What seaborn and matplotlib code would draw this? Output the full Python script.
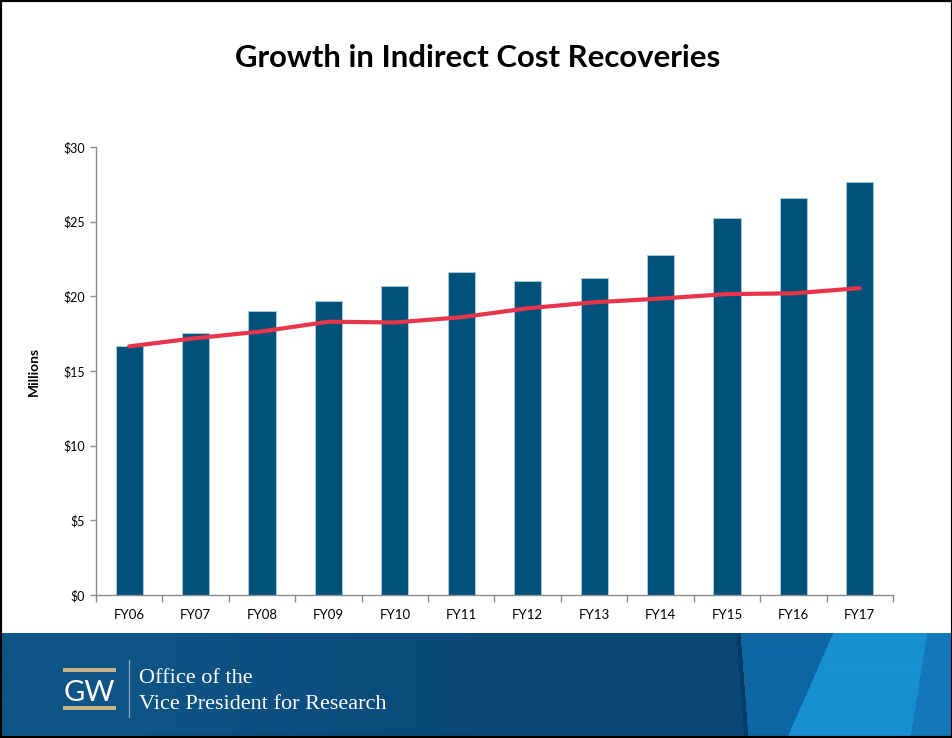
import numpy as np
import pandas as pd
import matplotlib
matplotlib.use("Agg")
import matplotlib.pyplot as plt
import seaborn as sns
from matplotlib.patches import Rectangle
from matplotlib.lines import Line2D

# ---- data ----
categories = ["FY06", "FY07", "FY08", "FY09", "FY10", "FY11",
              "FY12", "FY13", "FY14", "FY15", "FY16", "FY17"]
recoveries = [16.65, 17.55, 19.0, 19.7, 20.7, 21.65, 21.0, 21.2, 22.75, 25.25, 26.6, 27.65]
trend = [16.65, 17.2, 17.65, 18.3, 18.25, 18.6, 19.2, 19.6, 19.85, 20.15, 20.2, 20.55]
ytick_values = [0, 5, 10, 15, 20, 25, 30]
ytick_labels = ["$0", "$5", "$10", "$15", "$20", "$25", "$30"]
title_text = "Growth in Indirect Cost Recoveries"
ylabel_text = "Millions"
footer_line1 = "Office of the"
footer_line2 = "Vice President for Research"

sns.set_theme(style="white")
plt.rcParams["font.family"] = ["Lato", "DejaVu Sans"]

W, H = 953, 738
fig = plt.figure(figsize=(W / 100, H / 100), dpi=100)
fig.patch.set_facecolor("white")


def fx(x):
    return x / W


def fy(y):
    return 1 - y / H


# ---- chart ----
ax = fig.add_axes([fx(96), fy(595), fx(893) - fx(96), fy(147) - fy(595)])
df = pd.DataFrame({"Fiscal year": categories, "Recoveries": recoveries, "Trend": trend})
sns.barplot(data=df, x="Fiscal year", y="Recoveries", color="#00527A", saturation=1,
            width=0.41, edgecolor="#a9c9de", linewidth=0.7, ax=ax)
sns.pointplot(data=df, x="Fiscal year", y="Trend", color="#E8354B", markers="",
              linestyles="-", linewidth=3, errorbar=None, ax=ax)

ax.set_xlim(-0.5, len(categories) - 0.5)
ax.set_ylim(0, 30)
for s in ["top", "right"]:
    ax.spines[s].set_visible(False)
for s in ["left", "bottom"]:
    ax.spines[s].set_color("#8c8c8c")
    ax.spines[s].set_linewidth(1)
ax.set_yticks(ytick_values, ytick_labels)
ax.set_xticks(np.arange(-0.5, len(categories), 1.0), minor=True)
ax.tick_params(axis="y", which="major", left=True, length=4, width=1, color="#8c8c8c",
               direction="out", labelsize=9, pad=4, labelcolor="black")
ax.tick_params(axis="x", which="major", bottom=True, length=0, pad=10, labelsize=9.5,
               labelcolor="black")
ax.tick_params(axis="x", which="minor", bottom=True, length=5, width=1, color="#8c8c8c",
               direction="out")
ax.set_xlabel("")
ax.set_ylabel(ylabel_text, fontweight="bold", fontsize=10, color="black")
ax.yaxis.set_label_coords((40 - 96) / (893 - 96), 0.5)
ax.grid(False)

fig.text(fx(478), fy(58), title_text, ha="center", va="center", fontsize=22.4,
         fontweight="bold", color="black")

# ---- footer banner (decoration) ----
top = 633
bh = H - top
xs = np.arange(W)[None, :].astype(float)
t = (np.arange(bh)[:, None] / (bh - 1)).astype(float)
left_c = np.array([14, 84, 133]) / 255
mid_c = np.array([10, 72, 120]) / 255
w = np.clip((xs - 150) / 350, 0, 1)
w = np.broadcast_to(w, (bh, W))[..., None]
img = np.array(left_c * (1 - w) + mid_c * w)
line_x = 738 + 8 * t
b1 = 833 - 46 * t
b2 = 927 - 17 * t
xb = np.broadcast_to(xs, (bh, W))
m_dark = (xb >= line_x - 2) & (xb < line_x + 2)
m_b1 = (xb >= line_x + 2) & (xb < b1)
m_b2 = (xb >= b1) & (xb < b2)
m_b3 = xb >= b2
img[m_dark] = np.array([8, 60, 100]) / 255
img[m_b1] = np.array([13, 102, 163]) / 255
img[m_b2] = np.array([24, 143, 208]) / 255
img[m_b3] = np.array([20, 120, 187]) / 255

bax = fig.add_axes([0, 0, 1, fy(top)])
bax.imshow(img, aspect="auto", extent=[0, W, H, top], interpolation="bilinear")
bax.set_xlim(0, W)
bax.set_ylim(H, top)
bax.axis("off")

gold = "#C6B485"
fig.add_artist(Rectangle((fx(63), fy(671.5)), fx(116) - fx(63), (fy(668) - fy(671.5)),
                         transform=fig.transFigure, facecolor=gold, edgecolor="none"))
fig.add_artist(Rectangle((fx(63), fy(709.5)), fx(116) - fx(63), (fy(706) - fy(709.5)),
                         transform=fig.transFigure, facecolor=gold, edgecolor="none"))
fig.text(fx(89.5), fy(701), "GW", ha="center", va="baseline", fontsize=21,
         color="white", family=["Lato", "DejaVu Sans"])
fig.add_artist(Line2D([fx(128.7), fx(128.7)], [fy(660), fy(717)], transform=fig.transFigure,
                      color="#8fa6bf", linewidth=0.9))
fig.text(fx(139), fy(683), footer_line1, ha="left", va="baseline", fontsize=16,
         color="white", family=["Liberation Serif", "DejaVu Serif"])
fig.text(fx(139), fy(709), footer_line2, ha="left", va="baseline", fontsize=16,
         color="white", family=["Liberation Serif", "DejaVu Serif"])

# ---- outer border ----
fig.add_artist(Rectangle((0, 0), 1, 1, transform=fig.transFigure, fill=False,
                         edgecolor="black", linewidth=3))

fig.savefig("out.png", dpi=100)
